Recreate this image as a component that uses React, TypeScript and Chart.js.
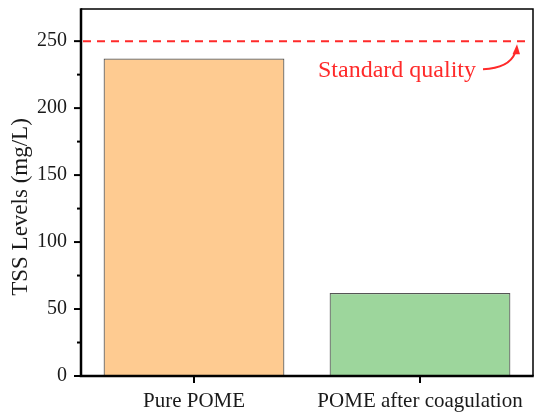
import React, { useEffect, useRef } from "react";
import { Chart, registerables } from "chart.js";

Chart.register(...registerables);

const categories = ["Pure POME", "POME after coagulation"];
const tssValues = [237, 62];
const standardQuality = 250;
const yTickValues = [0, 50, 100, 150, 200, 250];
const yMinorTickValues = [25, 75, 125, 175, 225];
const annotationLabel = "Standard quality";
const yAxisTitle = "TSS Levels (mg/L)";

const barFill = ["#fecb91", "#9dd69c"];
const FONT = "'Liberation Serif', 'Times New Roman', serif";

const framePlugin = {
  id: "framePlugin",
  afterDraw(chart: any) {
    const { ctx, chartArea } = chart;
    const { left, right, top, bottom } = chartArea;
    const y = chart.scales.y;
    const x = chart.scales.x;
    ctx.save();

    // y axis title
    ctx.save();
    ctx.translate(21, 207);
    ctx.rotate(-Math.PI / 2);
    ctx.fillStyle = "#1a1a1a";
    ctx.font = `23px ${FONT}`;
    ctx.textAlign = "center";
    ctx.textBaseline = "middle";
    ctx.fillText(yAxisTitle, 0, 0);
    ctx.restore();

    // standard quality dashed line
    const sy = y.getPixelForValue(standardQuality);
    ctx.strokeStyle = "#ff2a2a";
    ctx.lineWidth = 2;
    ctx.setLineDash([8, 6]);
    ctx.beginPath();
    ctx.moveTo(left + 2, sy);
    ctx.lineTo(right - 5, sy);
    ctx.stroke();
    ctx.setLineDash([]);

    // annotation text
    ctx.fillStyle = "#ff2a2a";
    ctx.font = `24px ${FONT}`;
    ctx.textAlign = "left";
    ctx.textBaseline = "alphabetic";
    ctx.fillText(annotationLabel, 318, sy + 36);

    // curved arrow
    ctx.lineWidth = 2;
    ctx.beginPath();
    ctx.moveTo(483, sy + 28);
    ctx.quadraticCurveTo(509, sy + 27, 515, sy + 12);
    ctx.stroke();
    ctx.beginPath();
    ctx.moveTo(517, sy + 3);
    ctx.lineTo(512.5, sy + 13);
    ctx.lineTo(520, sy + 13);
    ctx.closePath();
    ctx.fill();

    // frame
    ctx.strokeStyle = "#000";
    ctx.lineWidth = 1.5;
    ctx.beginPath();
    ctx.moveTo(left, top);
    ctx.lineTo(right, top);
    ctx.lineTo(right, bottom);
    ctx.stroke();
    ctx.lineWidth = 2.5;
    ctx.beginPath();
    ctx.moveTo(left, top - 0.75);
    ctx.lineTo(left, bottom);
    ctx.lineTo(right + 0.75, bottom);
    ctx.stroke();

    // y ticks
    ctx.lineWidth = 2;
    yTickValues.forEach((v) => {
      const py = y.getPixelForValue(v);
      ctx.beginPath();
      ctx.moveTo(left - 7, py);
      ctx.lineTo(left, py);
      ctx.stroke();
    });
    yMinorTickValues.forEach((v) => {
      const py = y.getPixelForValue(v);
      ctx.beginPath();
      ctx.moveTo(left - 4, py);
      ctx.lineTo(left, py);
      ctx.stroke();
    });
    // x ticks
    categories.forEach((_, i) => {
      const px = x.getPixelForValue(i);
      ctx.beginPath();
      ctx.moveTo(px, bottom);
      ctx.lineTo(px, bottom + 7);
      ctx.stroke();
    });
    ctx.restore();
  },
};

export default function App() {
  const ref = useRef<HTMLCanvasElement>(null);
  useEffect(() => {
    document.body.style.margin = "0";
    const canvas = ref.current;
    if (!canvas) return;
    const chart = new Chart(canvas, {
      type: "bar",
      data: {
        labels: categories,
        datasets: [
          {
            data: tssValues,
            backgroundColor: barFill,
            borderColor: "#555555",
            borderWidth: 1.2,
            barPercentage: 0.8,
            categoryPercentage: 1,
          },
        ],
      },
      options: {
        responsive: false,
        animation: false,
        layout: { padding: { left: 0, top: 9, right: 4, bottom: 0 } },
        plugins: { legend: { display: false }, tooltip: { enabled: false } },
        scales: {
          x: {
            grid: { display: false, drawTicks: false },
            border: { display: false },
            ticks: {
              color: "#1a1a1a",
              font: { family: FONT, size: 21 },
              padding: 13,
              maxRotation: 0,
              autoSkip: false,
            },
            afterFit: (s: any) => {
              s.height = 39;
              s.paddingLeft = 0;
              s.paddingRight = 0;
            },
          },
          y: {
            min: 0,
            max: 274,
            grid: { display: false, drawTicks: false },
            border: { display: false },
            afterBuildTicks: (s: any) => {
              s.ticks = yTickValues.map((v) => ({ value: v }));
            },
            ticks: {
              color: "#1a1a1a",
              font: { family: FONT, size: 20 },
              padding: 14,
            },
            afterFit: (s: any) => {
              s.width = 81;
              s.paddingTop = 0;
              s.paddingBottom = 0;
            },
          },
        },
      },
      plugins: [framePlugin],
    });
    return () => chart.destroy();
  }, []);
  return (
    <div style={{ width: 537, height: 415 }}>
      <canvas ref={ref} width={537} height={415} />
    </div>
  );
}
